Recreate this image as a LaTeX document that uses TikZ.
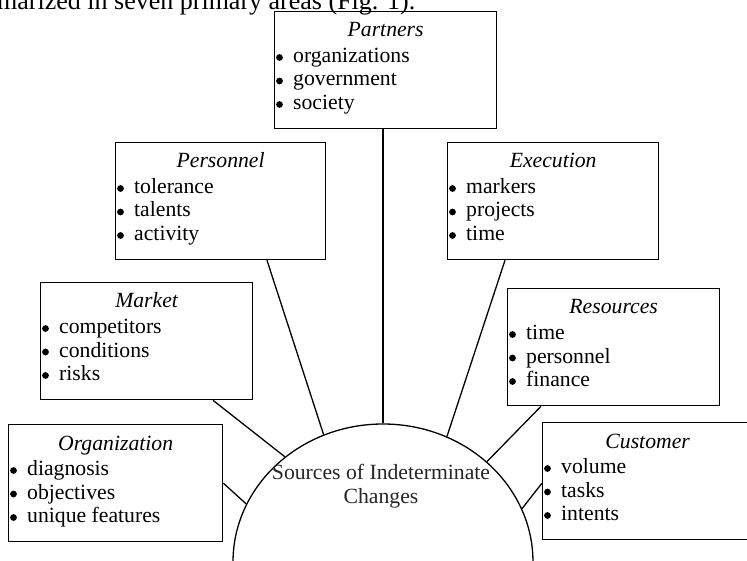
\documentclass[tikz,border=0pt]{standalone}
\usepackage{fontspec}
\setmainfont{Liberation Serif}
\usetikzlibrary{shapes.geometric}

% One labelled area: name, x, y (top left), width, title, three items
\newcommand\areabox[8]{%
  \node[areabox, minimum width=#4] (#1) at (#2,#3) {};
  \node[areatitle] (#1-title) at ([yshift=-26pt]#1.north) {#5};
  \node[areaitem] (#1-a) at ([xshift=19pt,yshift=-51.5pt]#1.north west) {#6};
  \node[areaitem] (#1-b) at ([xshift=19pt,yshift=-75pt]#1.north west) {#7};
  \node[areaitem] (#1-c) at ([xshift=19pt,yshift=-98.5pt]#1.north west) {#8};
  \fill ([xshift=5.5pt,yshift=-46.5pt]#1.north west) circle[radius=3.4pt];
  \fill ([xshift=5.5pt,yshift=-70pt]#1.north west) circle[radius=3.4pt];
  \fill ([xshift=5.5pt,yshift=-93.5pt]#1.north west) circle[radius=3.4pt];
}

\begin{document}
\begin{tikzpicture}[x=1pt,y=-1pt,
  areabox/.style={draw, line width=1.3pt, rectangle, inner sep=0pt,
                  minimum height=117pt, anchor=north west},
  areatitle/.style={font=\fontsize{21.7}{24}\selectfont\itshape, inner sep=0pt, anchor=base},
  areaitem/.style={font=\fontsize{21.7}{24}\selectfont, inner sep=0pt, anchor=base west},
  link/.style={line width=1.3pt},
  arch/.style={draw, ellipse, line width=1.3pt, inner sep=0pt,
               minimum width=300pt, minimum height=276pt},
  core/.style={font=\fontsize{21.7}{24}\selectfont, text=black!85, inner sep=0pt,
               align=center, anchor=base}]

\clip (0,0) rectangle (747,561);

% running text above the figure
\node[anchor=base west, inner sep=0pt, font=\fontsize{26}{28}\selectfont] (lead) at (-3,10)
  {marized in seven primary areas (Fig. 1).};

% central arch
\node[arch] (src) at (383,562) {};
\node[core] (srclabel) at (381,503) {Sources of Indeterminate\\Changes};

% the seven areas
\areabox{part}{274}{11}{222}{Partners}{organizations}{government}{society}
\areabox{pers}{115}{142}{210}{Personnel}{tolerance}{talents}{activity}
\areabox{exec}{447}{142}{211}{Execution}{markers}{projects}{time}
\areabox{mark}{40}{282}{212}{Market}{competitors}{conditions}{risks}
\areabox{reso}{507}{288}{212}{Resources}{time}{personnel}{finance}
\areabox{orga}{8}{424}{214}{Organization}{diagnosis}{objectives}{unique features}
\areabox{cust}{542}{422}{210}{Customer}{volume}{tasks}{intents}

% connectors to the arch
\draw[link] (src.north) -- (src.north |- part.south);
\draw[link] ([xshift=152pt]pers.south west) -- (src.115.7);
\draw[link] ([xshift=58pt]exec.south west) -- (src.63.3);
\draw[link] ([xshift=173pt]mark.south west) -- (src.133.9);
\draw[link] ([xshift=34pt]reso.south west) -- (src.44.2);
\draw[link] (orga.east) -- (src.157.1);
\draw[link] ([yshift=-2pt]cust.west) -- (src.21.9);
\end{tikzpicture}
\end{document}
